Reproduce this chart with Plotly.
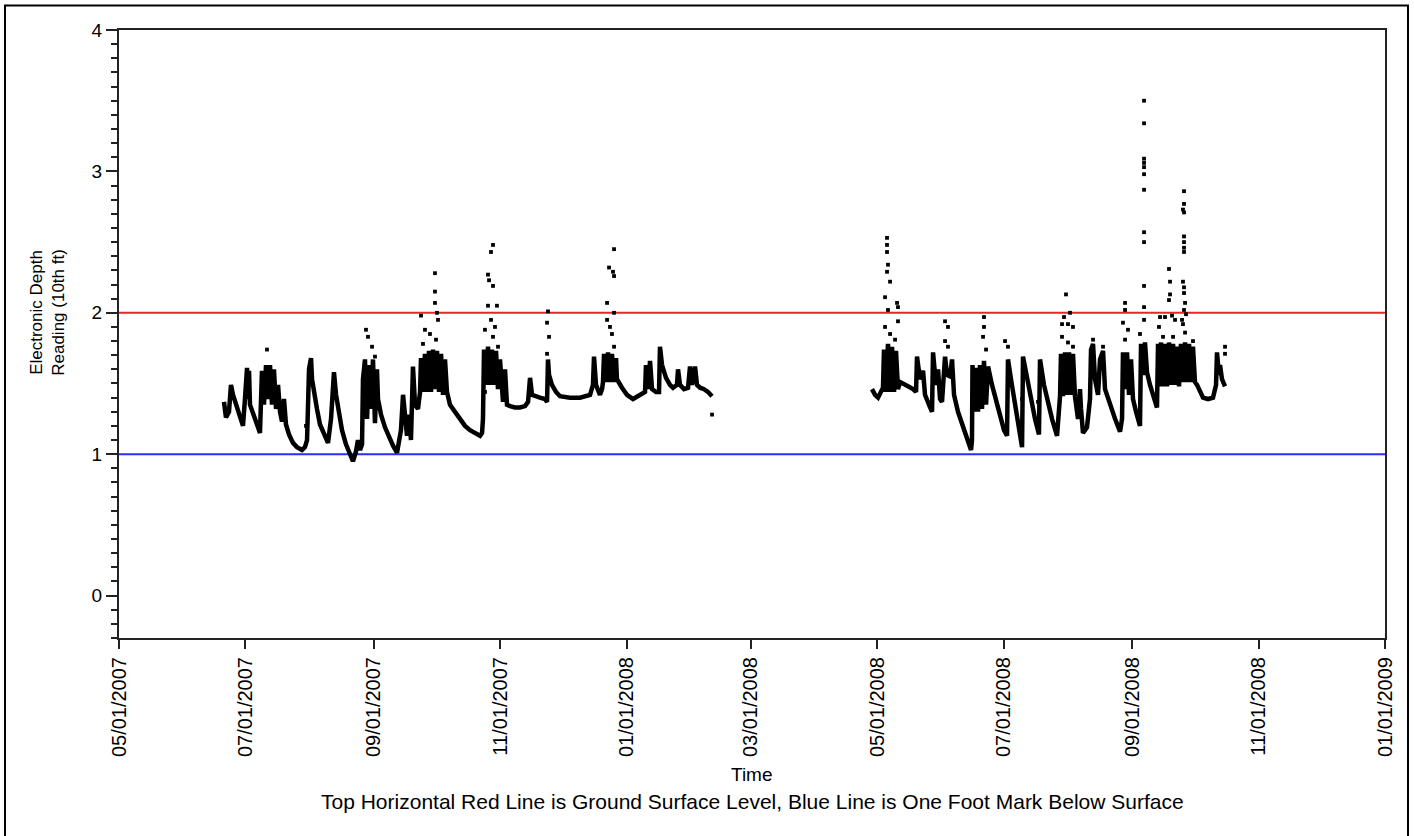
import plotly.graph_objects as go

# ---------------- data ----------------
seg1_time = [
    "2007-06-20 16:00", "2007-06-21 15:00", "2007-06-23 02:00", "2007-06-24 01:00", "2007-06-25 00:00",
    "2007-06-26 11:00", "2007-06-28 10:00", "2007-06-29 20:00", "2007-06-30 19:00", "2007-07-01 19:00",
    "2007-07-02 06:00", "2007-07-02 18:00", "2007-07-03 05:00", "2007-07-04 16:00", "2007-07-06 03:00",
    "2007-07-07 02:00", "2007-07-08 01:00", "2007-07-08 13:00", "2007-07-09 00:00", "2007-07-09 23:00",
    "2007-07-10 23:00", "2007-07-11 22:00", "2007-07-12 21:00", "2007-07-13 20:00", "2007-07-14 19:00",
    "2007-07-15 19:00", "2007-07-16 18:00", "2007-07-17 17:00", "2007-07-18 16:00", "2007-07-19 15:00",
    "2007-07-20 14:00", "2007-07-22 01:00", "2007-07-23 23:00", "2007-07-25 22:00", "2007-07-28 08:00",
    "2007-07-29 18:00", "2007-07-30 18:00", "2007-07-31 17:00", "2007-08-01 16:00", "2007-08-02 04:00",
    "2007-08-03 03:00", "2007-08-04 13:00", "2007-08-06 00:00", "2007-08-07 23:00", "2007-08-09 21:00",
    "2007-08-11 08:00", "2007-08-12 07:00", "2007-08-12 18:00", "2007-08-13 18:00", "2007-08-15 04:00",
    "2007-08-16 15:00", "2007-08-18 13:00", "2007-08-20 12:00", "2007-08-21 22:00", "2007-08-23 09:00",
    "2007-08-24 08:00", "2007-08-25 08:00", "2007-08-26 07:00", "2007-08-26 18:00", "2007-08-27 17:00",
    "2007-08-28 17:00", "2007-08-29 16:00", "2007-08-30 15:00", "2007-08-31 14:00", "2007-09-01 13:00",
    "2007-09-02 12:00", "2007-09-03 00:00", "2007-09-04 11:00", "2007-09-06 09:00", "2007-09-08 07:00",
    "2007-09-10 06:00", "2007-09-12 04:00", "2007-09-13 03:00", "2007-09-14 02:00", "2007-09-15 02:00",
    "2007-09-16 01:00", "2007-09-17 00:00", "2007-09-17 23:00", "2007-09-18 22:00", "2007-09-19 21:00",
    "2007-09-20 21:00", "2007-09-22 07:00", "2007-09-23 07:00", "2007-09-23 18:00", "2007-09-24 17:00",
    "2007-09-25 16:00", "2007-09-26 16:00", "2007-09-27 15:00", "2007-09-28 14:00", "2007-09-29 13:00",
    "2007-09-30 12:00", "2007-10-01 11:00", "2007-10-02 11:00", "2007-10-03 10:00", "2007-10-04 09:00",
    "2007-10-05 08:00", "2007-10-06 07:00", "2007-10-07 18:00", "2007-10-10 04:00", "2007-10-12 14:00",
    "2007-10-15 00:00", "2007-10-17 10:00", "2007-10-19 20:00", "2007-10-22 06:00", "2007-10-23 05:00",
    "2007-10-23 16:00", "2007-10-24 04:00", "2007-10-25 03:00", "2007-10-26 02:00", "2007-10-27 01:00",
    "2007-10-28 00:00", "2007-10-29 00:00", "2007-10-29 23:00", "2007-10-30 22:00", "2007-10-31 21:00",
    "2007-11-01 20:00", "2007-11-02 08:00", "2007-11-03 07:00", "2007-11-04 06:00", "2007-11-05 17:00",
    "2007-11-08 03:00", "2007-11-10 13:00", "2007-11-12 23:00", "2007-11-14 10:00", "2007-11-15 09:00",
    "2007-11-16 08:00", "2007-11-17 19:00", "2007-11-20 04:00", "2007-11-22 14:00", "2007-11-23 14:00",
    "2007-11-24 01:00", "2007-11-24 13:00", "2007-11-25 23:00", "2007-11-27 22:00", "2007-11-29 20:00",
    "2007-12-04 16:00", "2007-12-09 12:00", "2007-12-14 08:00", "2007-12-15 18:00", "2007-12-16 06:00",
    "2007-12-17 05:00", "2007-12-19 03:00", "2007-12-20 03:00", "2007-12-20 14:00", "2007-12-21 02:00",
    "2007-12-22 01:00", "2007-12-23 00:00", "2007-12-23 23:00", "2007-12-24 22:00", "2007-12-25 22:00",
    "2007-12-26 21:00", "2007-12-27 08:00", "2007-12-29 18:00", "2008-01-01 04:00", "2008-01-04 02:00",
    "2008-01-07 11:00", "2008-01-09 21:00", "2008-01-10 08:00", "2008-01-11 07:00", "2008-01-12 07:00",
    "2008-01-13 06:00", "2008-01-15 04:00", "2008-01-16 15:00", "2008-01-17 02:00", "2008-01-18 02:00",
    "2008-01-20 00:00", "2008-01-21 22:00", "2008-01-23 09:00", "2008-01-25 07:00", "2008-01-25 19:00",
    "2008-01-26 18:00", "2008-01-28 16:00", "2008-01-30 15:00", "2008-01-31 14:00", "2008-02-01 13:00",
    "2008-02-03 00:00", "2008-02-03 23:00", "2008-02-05 10:00", "2008-02-07 08:00", "2008-02-09 06:00",
    "2008-02-11 05:00",
]
seg1_depth = [
    1.37, 1.26, 1.30, 1.49, 1.42, 1.35, 1.26, 1.20, 1.39, 1.61,
    1.39, 1.59, 1.35, 1.28, 1.22, 1.19, 1.15, 1.35, 1.59, 1.35,
    1.63, 1.39, 1.63, 1.35, 1.60, 1.32, 1.49, 1.30, 1.23, 1.39,
    1.21, 1.14, 1.08, 1.05, 1.03, 1.05, 1.10, 1.60, 1.68, 1.53,
    1.42, 1.32, 1.21, 1.14, 1.08, 1.25, 1.54, 1.58, 1.42, 1.28,
    1.17, 1.07, 1.00, 0.95, 1.02, 1.10, 1.03, 1.07, 1.53, 1.67,
    1.25, 1.63, 1.32, 1.67, 1.22, 1.60, 1.39, 1.28, 1.19, 1.12,
    1.06, 1.01, 1.10, 1.17, 1.42, 1.25, 1.13, 1.28, 1.10, 1.62,
    1.35, 1.32, 1.44, 1.68, 1.44, 1.71, 1.44, 1.73, 1.44, 1.74,
    1.46, 1.73, 1.44, 1.71, 1.42, 1.67, 1.44, 1.35, 1.30, 1.25,
    1.20, 1.17, 1.15, 1.13, 1.15, 1.25, 1.74, 1.49, 1.76, 1.49,
    1.74, 1.49, 1.73, 1.46, 1.67, 1.42, 1.37, 1.60, 1.35, 1.34,
    1.33, 1.33, 1.34, 1.37, 1.54, 1.42, 1.41, 1.40, 1.39, 1.37,
    1.67, 1.56, 1.49, 1.44, 1.41, 1.40, 1.40, 1.42, 1.49, 1.69,
    1.49, 1.42, 1.46, 1.51, 1.71, 1.51, 1.72, 1.51, 1.71, 1.51,
    1.68, 1.53, 1.47, 1.42, 1.39, 1.42, 1.44, 1.63, 1.46, 1.66,
    1.46, 1.44, 1.44, 1.76, 1.63, 1.54, 1.49, 1.47, 1.49, 1.60,
    1.49, 1.46, 1.47, 1.62, 1.49, 1.62, 1.49, 1.47, 1.46, 1.44,
    1.41,
]

seg2_time = [
    "2008-04-28 10:00", "2008-04-29 21:00", "2008-05-01 08:00", "2008-05-02 18:00", "2008-05-03 17:00",
    "2008-05-04 05:00", "2008-05-05 04:00", "2008-05-06 03:00", "2008-05-07 03:00", "2008-05-08 02:00",
    "2008-05-09 01:00", "2008-05-10 00:00", "2008-05-10 23:00", "2008-05-11 22:00", "2008-05-13 21:00",
    "2008-05-15 19:00", "2008-05-18 05:00", "2008-05-19 16:00", "2008-05-20 03:00", "2008-05-21 14:00",
    "2008-05-23 01:00", "2008-05-24 00:00", "2008-05-25 22:00", "2008-05-27 09:00", "2008-05-27 21:00",
    "2008-05-29 07:00", "2008-05-30 07:00", "2008-05-31 06:00", "2008-06-01 05:00", "2008-06-02 16:00",
    "2008-06-03 15:00", "2008-06-05 02:00", "2008-06-06 01:00", "2008-06-07 00:00", "2008-06-08 22:00",
    "2008-06-10 21:00", "2008-06-12 19:00", "2008-06-15 05:00", "2008-06-15 16:00", "2008-06-15 22:00",
    "2008-06-16 16:00", "2008-06-17 15:00", "2008-06-18 14:00", "2008-06-19 13:00", "2008-06-20 12:00",
    "2008-06-21 11:00", "2008-06-22 11:00", "2008-06-23 10:00", "2008-06-25 08:00", "2008-06-27 06:00",
    "2008-06-29 05:00", "2008-07-01 03:00", "2008-07-02 14:00", "2008-07-03 01:00", "2008-07-04 12:00",
    "2008-07-05 23:00", "2008-07-07 21:00", "2008-07-09 20:00", "2008-07-10 07:00", "2008-07-12 05:00",
    "2008-07-14 04:00", "2008-07-16 02:00", "2008-07-18 00:00", "2008-07-18 12:00", "2008-07-20 10:00",
    "2008-07-22 09:00", "2008-07-24 07:00", "2008-07-26 17:00", "2008-07-27 16:00", "2008-07-28 04:00",
    "2008-07-28 15:00", "2008-07-29 14:00", "2008-07-30 14:00", "2008-07-31 13:00", "2008-08-01 12:00",
    "2008-08-02 11:00", "2008-08-03 10:00", "2008-08-04 09:00", "2008-08-05 20:00", "2008-08-06 19:00",
    "2008-08-07 07:00", "2008-08-08 06:00", "2008-08-10 04:00", "2008-08-11 15:00", "2008-08-12 03:00",
    "2008-08-13 02:00", "2008-08-14 01:00", "2008-08-15 12:00", "2008-08-16 11:00", "2008-08-17 22:00",
    "2008-08-18 21:00", "2008-08-21 07:00", "2008-08-23 17:00", "2008-08-26 03:00", "2008-08-27 02:00",
    "2008-08-27 13:00", "2008-08-28 13:00", "2008-08-29 12:00", "2008-08-30 11:00", "2008-08-31 10:00",
    "2008-09-01 09:00", "2008-09-02 20:00", "2008-09-04 18:00", "2008-09-05 06:00", "2008-09-06 05:00",
    "2008-09-07 04:00", "2008-09-08 03:00", "2008-09-09 14:00", "2008-09-11 13:00", "2008-09-12 23:00",
    "2008-09-13 11:00", "2008-09-13 22:00", "2008-09-14 22:00", "2008-09-15 21:00", "2008-09-16 20:00",
    "2008-09-17 19:00", "2008-09-18 18:00", "2008-09-19 17:00", "2008-09-20 17:00", "2008-09-21 16:00",
    "2008-09-22 15:00", "2008-09-23 14:00", "2008-09-24 13:00", "2008-09-25 12:00", "2008-09-26 12:00",
    "2008-09-27 11:00", "2008-09-28 10:00", "2008-09-29 09:00", "2008-09-30 08:00", "2008-10-01 07:00",
    "2008-10-02 07:00", "2008-10-03 17:00", "2008-10-05 04:00", "2008-10-07 14:00", "2008-10-10 00:00",
    "2008-10-11 11:00", "2008-10-11 22:00", "2008-10-12 21:00", "2008-10-13 09:00", "2008-10-14 08:00",
    "2008-10-15 19:00",
]
seg2_depth = [
    1.46, 1.42, 1.40, 1.44, 1.47, 1.74, 1.44, 1.78, 1.44, 1.76,
    1.44, 1.73, 1.46, 1.51, 1.49, 1.48, 1.46, 1.44, 1.69, 1.53,
    1.59, 1.42, 1.35, 1.30, 1.72, 1.49, 1.60, 1.39, 1.37, 1.69,
    1.56, 1.55, 1.67, 1.42, 1.30, 1.21, 1.12, 1.03, 1.10, 1.63,
    1.30, 1.61, 1.30, 1.63, 1.32, 1.66, 1.35, 1.62, 1.49, 1.39,
    1.28, 1.17, 1.13, 1.67, 1.53, 1.39, 1.21, 1.05, 1.69, 1.53,
    1.39, 1.25, 1.14, 1.67, 1.49, 1.35, 1.25, 1.13, 1.28, 1.41,
    1.71, 1.41, 1.72, 1.42, 1.72, 1.42, 1.71, 1.41, 1.25, 1.46,
    1.32, 1.15, 1.19, 1.39, 1.74, 1.78, 1.53, 1.42, 1.67, 1.73,
    1.46, 1.35, 1.25, 1.16, 1.25, 1.72, 1.46, 1.72, 1.42, 1.67,
    1.39, 1.30, 1.20, 1.78, 1.56, 1.79, 1.58, 1.49, 1.40, 1.33,
    1.78, 1.48, 1.79, 1.48, 1.78, 1.48, 1.79, 1.49, 1.78, 1.49,
    1.76, 1.48, 1.78, 1.51, 1.79, 1.51, 1.78, 1.51, 1.76, 1.51,
    1.49, 1.44, 1.40, 1.39, 1.40, 1.49, 1.72, 1.56, 1.63, 1.53,
    1.48,
]

spike_time = [
    "2007-07-11 10:00", "2007-07-30 06:00", "2007-08-28 05:00", "2007-08-29 04:00", "2007-08-31 03:00",
    "2007-09-01 13:00", "2007-09-30 12:00", "2007-09-30 12:00", "2007-09-30 12:00", "2007-10-01 11:00",
    "2007-10-01 23:00", "2007-09-23 18:00", "2007-09-25 16:00", "2007-09-28 02:00", "2007-10-01 00:00",
    "2007-09-24 17:00", "2007-10-28 12:00", "2007-10-27 13:00", "2007-10-26 02:00", "2007-10-26 14:00",
    "2007-10-28 12:00", "2007-10-26 02:00", "2007-10-30 10:00", "2007-10-27 13:00", "2007-10-29 11:00",
    "2007-10-24 15:00", "2007-10-28 12:00", "2007-10-30 22:00", "2007-10-24 15:00", "2007-11-24 01:00",
    "2007-11-23 14:00", "2007-11-24 13:00", "2007-11-23 14:00", "2007-12-25 22:00", "2007-12-23 12:00",
    "2007-12-25 10:00", "2007-12-25 22:00", "2007-12-22 13:00", "2007-12-25 22:00", "2007-12-22 13:00",
    "2007-12-23 23:00", "2007-12-24 22:00", "2007-12-25 22:00", "2008-02-11 05:00",
    "2008-05-05 16:00", "2008-05-05 16:00", "2008-05-05 16:00", "2008-05-06 03:00", "2008-05-05 16:00",
    "2008-05-07 03:00", "2008-05-04 17:00", "2008-05-06 03:00", "2008-05-10 12:00", "2008-05-10 23:00",
    "2008-05-10 23:00", "2008-05-04 17:00", "2008-05-09 13:00", "2008-05-07 03:00", "2008-06-02 16:00",
    "2008-06-04 02:00", "2008-06-02 16:00", "2008-06-04 02:00", "2008-06-21 11:00", "2008-06-21 11:00",
    "2008-06-21 00:00", "2008-06-22 11:00", "2008-07-01 15:00", "2008-07-03 01:00", "2008-07-09 20:00",
    "2008-07-17 13:00", "2008-07-31 01:00", "2008-08-02 00:00", "2008-07-30 02:00", "2008-07-29 03:00",
    "2008-08-01 00:00", "2008-08-03 10:00", "2008-07-29 03:00", "2008-08-01 00:00", "2008-08-03 10:00",
    "2008-08-13 02:00", "2008-08-17 22:00", "2008-08-28 13:00", "2008-08-28 13:00", "2008-08-27 13:00",
    "2008-08-29 23:00", "2008-08-28 13:00", "2008-09-06 17:00", "2008-09-06 17:00", "2008-09-06 17:00",
    "2008-09-06 17:00", "2008-09-06 17:00", "2008-09-06 17:00", "2008-09-06 17:00", "2008-09-06 17:00",
    "2008-09-06 17:00", "2008-09-06 17:00", "2008-09-06 17:00", "2008-09-06 17:00", "2008-09-04 18:00",
    "2008-09-18 18:00", "2008-09-19 06:00", "2008-09-19 06:00", "2008-09-18 18:00", "2008-09-14 10:00",
    "2008-09-16 20:00", "2008-09-20 05:00", "2008-09-21 16:00", "2008-09-13 22:00", "2008-09-15 21:00",
    "2008-09-20 17:00", "2008-09-26 00:00", "2008-09-26 00:00", "2008-09-25 12:00", "2008-09-26 00:00",
    "2008-09-26 00:00", "2008-09-26 00:00", "2008-09-26 00:00", "2008-09-26 00:00", "2008-09-25 12:00",
    "2008-09-26 00:00", "2008-09-26 00:00", "2008-09-26 12:00", "2008-09-26 00:00", "2008-09-26 23:00",
    "2008-09-25 01:00", "2008-09-25 12:00", "2008-09-26 12:00", "2008-09-30 08:00", "2008-10-15 19:00",
    "2008-10-15 19:00",
]
spike_depth = [
    1.74, 1.20, 1.88, 1.83, 1.76,
    1.69, 2.28, 2.15, 2.07, 2.00,
    1.95, 1.98, 1.88, 1.85, 1.81,
    1.78, 2.48, 2.43, 2.27, 2.23,
    2.19, 2.05, 2.05, 1.95, 1.90,
    1.88, 1.83, 1.76, 1.44, 2.01,
    1.93, 1.83, 1.71, 2.45, 2.32,
    2.29, 2.26, 2.07, 2.00, 1.95,
    1.90, 1.85, 1.76, 1.28,
    2.53, 2.48, 2.43, 2.34, 2.29,
    2.22, 2.11, 2.02, 2.07, 2.04,
    1.94, 1.90, 1.81, 1.85, 1.94,
    1.90, 1.80, 1.76, 1.97, 1.90,
    1.83, 1.74, 1.80, 1.76, 1.39,
    1.37, 2.13, 2.00, 1.97, 1.92,
    1.92, 1.90, 1.83, 1.79, 1.76,
    1.81, 1.76, 2.07, 2.02, 1.93,
    1.88, 1.81, 3.50, 3.34, 3.09,
    3.06, 3.03, 2.98, 2.87, 2.57,
    2.50, 2.19, 2.04, 1.95, 1.85,
    2.31, 2.22, 2.13, 2.09, 1.97,
    1.97, 1.98, 1.95, 1.90, 1.83,
    1.83, 2.86, 2.77, 2.73, 2.71,
    2.54, 2.50, 2.46, 2.43, 2.22,
    2.18, 2.14, 2.07, 2.02, 1.99,
    1.95, 1.92, 1.86, 1.80, 1.76,
    1.71,
]

ground_surface_level = 2.0
one_foot_below = 1.0
x_range = ["2007-05-01", "2009-01-01"]
x_ticks = ["2007-05-01", "2007-07-01", "2007-09-01", "2007-11-01", "2008-01-01", "2008-03-01",
           "2008-05-01", "2008-07-01", "2008-09-01", "2008-11-01", "2009-01-01"]
y_range = [-0.3, 4.0]

# ---------------- figure ----------------
FONT = "Liberation Sans, Arial, sans-serif"
fig = go.Figure()

fig.add_trace(go.Scatter(x=x_range, y=[ground_surface_level] * 2, mode="lines",
                         line=dict(color="#e8262a", width=2), hoverinfo="skip"))
fig.add_trace(go.Scatter(x=x_range, y=[one_foot_below] * 2, mode="lines",
                         line=dict(color="#2b2bff", width=2), hoverinfo="skip"))

for t, d in ((seg1_time, seg1_depth), (seg2_time, seg2_depth)):
    fig.add_trace(go.Scatter(x=t, y=d, mode="lines",
                             line=dict(color="black", width=4.5)))

fig.add_trace(go.Scatter(x=spike_time, y=spike_depth, mode="markers",
                         marker=dict(symbol="square", size=3.8, color="black",
                                     line=dict(width=0))))

W, H = 1414, 836
ml, mr, mt, mb = 119, 29, 30, 198
pw, ph = W - ml - mr, H - mt - mb

def px(xp):
    return (xp - ml) / pw

def py(yp):
    return (H - mb - yp) / ph

fig.update_layout(
    width=W, height=H, autosize=False,
    margin=dict(l=ml, r=mr, t=mt, b=mb, pad=0),
    paper_bgcolor="white", plot_bgcolor="white",
    showlegend=False,
    font=dict(family=FONT, color="black", size=18),
    xaxis=dict(type="date", range=x_range, tickvals=x_ticks, tickformat="%m/%d/%Y",
               tickangle=-90, ticks="outside", ticklen=9, tickwidth=2, tickcolor="#222",
               showline=True, linecolor="#222", linewidth=2, mirror=True,
               showgrid=False, zeroline=False, tickfont=dict(size=20, family=FONT)),
    yaxis=dict(range=y_range, tickvals=[0, 1, 2, 3, 4], ticks="outside", ticklen=11,
               tickwidth=2, tickcolor="#222",
               minor=dict(dtick=0.1, tick0=0, ticks="outside", ticklen=6, tickwidth=2,
                          tickcolor="#222", showgrid=False),
               showline=True, linecolor="#222", linewidth=2, mirror=True,
               showgrid=False, zeroline=False, tickfont=dict(size=19, family=FONT)),
    shapes=[dict(type="rect", xref="paper", yref="paper",
                 x0=px(5), x1=px(1408), y0=py(845), y1=py(5.5),
                 line=dict(color="black", width=2), fillcolor="rgba(0,0,0,0)", layer="below")],
    annotations=[
        dict(text="Electronic Depth<br>Reading (10th ft)", xref="paper", yref="y",
             x=px(48), y=2.0, textangle=-90, showarrow=False,
             font=dict(size=17, family=FONT), xanchor="center", yanchor="middle"),
        dict(text="Time", xref="paper", yref="paper", x=0.5, y=py(774),
             showarrow=False, font=dict(size=19, family=FONT), xanchor="center", yanchor="middle"),
        dict(text="Top Horizontal Red Line is Ground Surface Level, Blue Line is One Foot Mark Below Surface",
             xref="paper", yref="paper", x=0.5, y=py(801), showarrow=False,
             font=dict(size=21, family=FONT), xanchor="center", yanchor="middle"),
    ],
)

fig.write_html("out.html")
